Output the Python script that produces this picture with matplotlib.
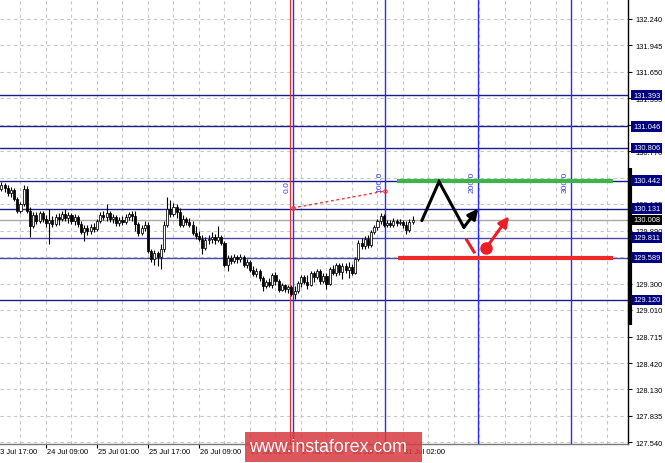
import matplotlib
matplotlib.use('Agg')
import matplotlib.pyplot as plt
from matplotlib.patches import Rectangle
import matplotlib.transforms as mtransforms

plt.rcParams['font.family'] = ['Liberation Sans', 'DejaVu Sans']

# ---------------- data ----------------
bar_index = list(range(1, 132))
opens = [
    130.395, 130.351, 130.395, 130.362, 130.307, 130.340, 130.240, 130.107, 130.185, 130.351,
    130.107, 129.941, 130.063, 129.997, 130.085, 130.019, 129.975, 130.008, 129.963, 130.041,
    130.019, 130.074, 130.030, 130.063, 129.997, 130.041, 129.963, 129.875, 129.919, 129.886,
    129.930, 129.908, 129.997, 130.063, 130.041, 130.085, 130.019, 130.041, 129.975, 130.008,
    129.986, 130.041, 130.074, 130.052, 129.963, 129.864, 129.919, 129.952, 129.665, 129.576,
    129.643, 129.598, 129.687, 129.952, 130.129, 130.074, 130.152, 130.096, 129.952, 130.019,
    129.986, 129.952, 129.864, 129.831, 129.798, 129.698, 129.787, 129.798, 129.820, 129.787,
    129.820, 129.753, 129.510, 129.587, 129.554, 129.598, 129.576, 129.598, 129.510, 129.543,
    129.455, 129.410, 129.444, 129.366, 129.278, 129.322, 129.289, 129.399, 129.333, 129.234,
    129.289, 129.245, 129.267, 129.190, 129.223, 129.311, 129.377, 129.322, 129.289, 129.421,
    129.377, 129.444, 129.333, 129.388, 129.300, 129.466, 129.421, 129.510, 129.433, 129.499,
    129.455, 129.488, 129.421, 129.576, 129.753, 129.720, 129.798, 129.731, 129.875, 129.930,
    129.997, 130.052, 129.952, 129.975, 129.952, 129.997, 129.975, 129.986, 129.952, 129.897,
    129.986]
highs = [
    130.429, 130.429, 130.418, 130.395, 130.373, 130.362, 130.262, 130.207, 130.395, 130.384,
    130.152, 130.096, 130.096, 130.107, 130.107, 130.063, 130.129, 130.052, 130.074, 130.085,
    130.107, 130.129, 130.096, 130.085, 130.074, 130.063, 129.997, 129.952, 129.952, 129.963,
    129.975, 130.019, 130.096, 130.107, 130.185, 130.107, 130.074, 130.063, 130.041, 130.052,
    130.074, 130.096, 130.107, 130.107, 129.986, 129.952, 129.997, 129.986, 129.687, 129.676,
    129.665, 129.742, 129.997, 130.262, 130.229, 130.196, 130.185, 130.141, 130.063, 130.041,
    130.030, 129.997, 129.941, 129.886, 129.842, 129.820, 129.842, 129.875, 129.853, 129.941,
    129.842, 129.775, 129.621, 129.621, 129.632, 129.621, 129.632, 129.621, 129.576, 129.565,
    129.499, 129.477, 129.466, 129.388, 129.344, 129.366, 129.421, 129.433, 129.355, 129.311,
    129.300, 129.289, 129.289, 129.278, 129.333, 129.399, 129.399, 129.399, 129.444, 129.444,
    129.466, 129.466, 129.421, 129.421, 129.488, 129.510, 129.532, 129.532, 129.532, 129.532,
    129.543, 129.521, 129.598, 129.787, 129.809, 129.831, 129.842, 129.897, 129.952, 130.019,
    130.085, 130.074, 130.008, 130.008, 130.030, 130.019, 130.019, 130.008, 129.997, 130.019,
    130.052]
lows = [
    130.318, 130.329, 130.318, 130.273, 130.262, 130.218, 130.085, 130.085, 130.163, 130.085,
    129.820, 129.919, 129.963, 129.975, 129.986, 129.930, 129.742, 129.930, 129.941, 129.952,
    129.997, 129.997, 129.975, 129.963, 129.952, 129.930, 129.853, 129.775, 129.842, 129.853,
    129.875, 129.886, 129.975, 130.008, 129.997, 129.986, 129.975, 129.941, 129.941, 129.952,
    129.963, 130.008, 129.997, 129.886, 129.831, 129.842, 129.886, 129.643, 129.543, 129.510,
    129.499, 129.466, 129.654, 129.930, 130.041, 130.052, 130.030, 129.930, 129.930, 129.952,
    129.930, 129.842, 129.798, 129.775, 129.632, 129.676, 129.742, 129.753, 129.742, 129.764,
    129.731, 129.488, 129.444, 129.521, 129.532, 129.532, 129.543, 129.488, 129.477, 129.433,
    129.388, 129.377, 129.333, 129.223, 129.256, 129.267, 129.256, 129.289, 129.212, 129.223,
    129.212, 129.201, 129.168, 129.135, 129.201, 129.267, 129.300, 129.245, 129.278, 129.322,
    129.355, 129.300, 129.311, 129.245, 129.289, 129.399, 129.388, 129.399, 129.355, 129.421,
    129.366, 129.399, 129.410, 129.554, 129.687, 129.687, 129.698, 129.709, 129.853, 129.897,
    129.963, 129.930, 129.930, 129.930, 129.930, 129.941, 129.952, 129.919, 129.853, 129.875,
    129.963]
closes = [
    130.351, 130.395, 130.362, 130.307, 130.340, 130.240, 130.107, 130.185, 130.351, 130.107,
    129.941, 130.063, 129.997, 130.085, 130.019, 129.975, 130.008, 129.963, 130.041, 130.019,
    130.074, 130.030, 130.063, 129.997, 130.041, 129.963, 129.875, 129.919, 129.886, 129.930,
    129.908, 129.997, 130.063, 130.041, 130.085, 130.019, 130.041, 129.975, 130.008, 129.986,
    130.041, 130.074, 130.052, 129.963, 129.864, 129.919, 129.952, 129.665, 129.576, 129.643,
    129.598, 129.687, 129.952, 130.129, 130.074, 130.152, 130.096, 129.952, 130.019, 129.986,
    129.952, 129.864, 129.831, 129.798, 129.698, 129.787, 129.798, 129.820, 129.787, 129.820,
    129.753, 129.510, 129.587, 129.554, 129.598, 129.576, 129.598, 129.510, 129.543, 129.455,
    129.410, 129.444, 129.366, 129.278, 129.322, 129.289, 129.399, 129.333, 129.234, 129.289,
    129.245, 129.267, 129.190, 129.223, 129.311, 129.377, 129.322, 129.289, 129.421, 129.377,
    129.444, 129.333, 129.388, 129.300, 129.466, 129.421, 129.510, 129.433, 129.499, 129.455,
    129.488, 129.421, 129.576, 129.753, 129.720, 129.798, 129.731, 129.875, 129.930, 129.997,
    130.052, 129.952, 129.975, 129.952, 129.997, 129.975, 129.986, 129.952, 129.897, 129.986,
    130.008]

price_ticks = [132.240, 131.945, 131.650, 131.355, 131.060, 130.770, 130.475, 130.185,
               129.890, 129.595, 129.300, 129.010, 128.715, 128.420, 128.130, 127.835, 127.540]
price_tick_labels = ['132.240', '131.945', '131.650', '131.355', '131.060', '130.770',
                     '130.475', '130.185', '129.890', '129.595', '129.300', '129.010',
                     '128.715', '128.420', '128.130', '127.835', '127.540']

time_tick_bars = [0, 16, 32, 48, 64, 80, 96, 112, 128]
time_tick_labels = ['23 Jul 17:00', '24 Jul 09:00', '25 Jul 01:00', '25 Jul 17:00',
                    '26 Jul 09:00', '27 Jul 01:00', '27 Jul 17:00', '30 Jul 10:00',
                    '31 Jul 02:00']

levels = [131.393, 131.046, 130.806, 130.442, 130.131, 129.811, 129.589, 129.120]
level_colors = ['#1c1c8a', '#1c1c8a', '#1c1c8a', '#1c1c8a', '#1c1c8a',
                '#4a4aa8', '#4a4aa8', '#1c1c8a']
current_price = 130.008

fibo_bars = [93.4, 122.5, 151.6, 180.6]
fibo_labels = ['0.0', '100.0', '200.0', '300.0']
fibo_base_bars = [93.4, 122.5]
fibo_base_prices = [130.141, 130.329]
red_vline_bar = 92.5

resistance_price = 130.442
resistance_bars = [126.1, 193.9]
support_price = 129.589
support_bars = [126.4, 193.9]

up_path_bars = [133.9, 139.3, 147.1, 151.6]
up_path_prices = [130.000, 130.432, 129.926, 130.134]
down_break_bars = [148.0, 150.3]
down_break_prices = [129.785, 129.652]
down_dot = (154.0, 129.693)
down_arrow_end = (161.25, 130.048)

axis_highlight = [128.84, 130.58]

# ---------------- figure ----------------
W, H = 665, 464
fig = plt.figure(figsize=(W / 100, H / 100), dpi=100)
fig.patch.set_facecolor('white')
ax = fig.add_axes([0, 19 / H, 628 / W, 445 / H])
ax.set_facecolor('white')
ax.set_xlim(1.569, 198.59)
ax.set_ylim(127.523, 132.458)

for s in ['top', 'left']:
    ax.spines[s].set_visible(False)
ax.spines['right'].set_color('black')
ax.spines['right'].set_linewidth(1.0)
ax.spines['bottom'].set_color('#7a7a7a')
ax.spines['bottom'].set_linewidth(1.0)

ax.yaxis.tick_right()
ax.set_yticks(price_ticks)
ax.set_yticklabels(price_tick_labels)
ax.tick_params(axis='y', direction='out', length=3, width=0.8, pad=2,
               labelsize=5.4, colors='black')
ax.set_xticks(time_tick_bars[1:])
ax.set_xticklabels([])
ax.tick_params(axis='x', direction='out', length=3, width=0.8, color='black')

# grid
grid_style = dict(color='#c6c6c6', lw=0.8, ls=(0, (3, 3)), zorder=0)
for p in price_ticks:
    ax.axhline(p, **grid_style)
for b in range(0, 200, 8):
    ax.axvline(b, **grid_style)

# levels
for lvl, col in zip(levels, level_colors):
    ax.axhline(lvl, color=col, lw=1.0, zorder=2)
ax.axhline(current_price, color='#a8a8a8', lw=1.0, zorder=2)

# fibo time zones
ax.axvline(red_vline_bar, color='#e83030', lw=0.8, zorder=2)
for b, lab in zip(fibo_bars, fibo_labels):
    ax.axvline(b, color='#2a2aff', lw=1.0, zorder=2)
    ax.text(b - 1.8, 130.318, lab, rotation=90, color='#3a3aff', fontsize=6.0,
            ha='center', va='bottom', zorder=3)
ax.plot(fibo_base_bars, fibo_base_prices, color='#ff3030', lw=1.0, ls=(0, (2, 2)),
        marker='o', ms=2.5, mfc='none', mec='#ff3030', mew=0.8, zorder=3)

# candles
bodies_bottom = [min(o, c) for o, c in zip(opens, closes)]
bodies_height = [max(abs(c - o), 0.004) for o, c in zip(opens, closes)]
fills = ['white' if c >= o else 'black' for o, c in zip(opens, closes)]
ax.vlines(bar_index, lows, highs, color='black', lw=0.8, zorder=3)
ax.bar(bar_index, bodies_height, bottom=bodies_bottom, width=0.65, color=fills,
       edgecolor='black', linewidth=0.55, zorder=4)

# scenario lines
ax.hlines(resistance_price, *resistance_bars, color='#3cb44b', lw=3, zorder=4)
ax.hlines(support_price, *support_bars, color='#f02828', lw=3, zorder=4)

ax.plot(up_path_bars[:3], up_path_prices[:3], color='black', lw=2.2,
        solid_capstyle='round', solid_joinstyle='miter', zorder=5)
ax.annotate('', xy=(up_path_bars[3], up_path_prices[3]),
            xytext=(up_path_bars[2], up_path_prices[2]),
            arrowprops=dict(arrowstyle='-|>', color='black', lw=2.2,
                            mutation_scale=15, shrinkA=0, shrinkB=0), zorder=5)

ax.plot(down_break_bars, down_break_prices, color='#ee1c25', lw=2.2, zorder=5)
ax.plot([down_dot[0]], [down_dot[1]], 'o', color='#ee1c25', ms=8, zorder=6)
ax.annotate('', xy=down_arrow_end, xytext=down_dot,
            arrowprops=dict(arrowstyle='-|>', color='#ee1c25', lw=2.2,
                            mutation_scale=15, shrinkA=0, shrinkB=0), zorder=5)

# right axis highlight bar
tr_axis = mtransforms.blended_transform_factory(ax.transAxes, ax.transData)
ax.plot([1.0032, 1.0032], axis_highlight, color='black', lw=3, transform=tr_axis,
        clip_on=False, solid_capstyle='butt', zorder=6)

# boxed price labels
tr_lab = mtransforms.blended_transform_factory(fig.transFigure, ax.transData)
for lvl in levels:
    ax.text(633 / W, lvl, f'{lvl:.3f}', transform=tr_lab, color='white',
            fontsize=5.4, ha='left', va='center', clip_on=False, zorder=7,
            bbox=dict(boxstyle='square,pad=0.25', fc='#000080', ec='none'))
ax.text(633 / W, current_price, f'{current_price:.3f}', transform=tr_lab,
        color='white', fontsize=5.4, ha='left', va='center', clip_on=False, zorder=8,
        bbox=dict(boxstyle='square,pad=0.25', fc='black', ec='none'))

# time labels
tr_time = mtransforms.blended_transform_factory(ax.transData, fig.transFigure)
for b, lab in zip(time_tick_bars, time_tick_labels):
    ax.text(b + 0.2, (H - 453) / H, lab, transform=tr_time, fontsize=5.4,
            ha='left', va='center', color='black', clip_on=False)

# watermark
fig.patches.append(Rectangle((245 / W, 1 / H), 177 / W, 30 / H, transform=fig.transFigure,
                             facecolor='#d73c41', alpha=0.86, edgecolor='none', zorder=10))
fig.text(328 / W, 16 / H, 'www.instaforex.com', color='white', fontsize=12.8,
         ha='center', va='center', zorder=11)

fig.savefig('out.png', dpi=100, facecolor='white')
